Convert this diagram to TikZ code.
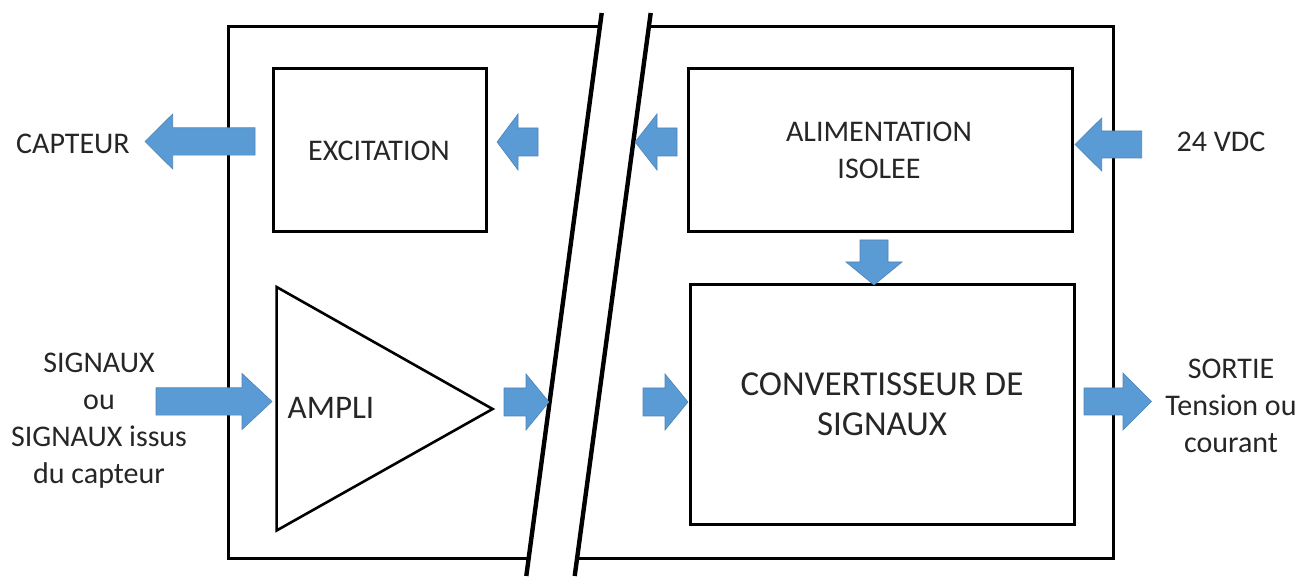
\documentclass[tikz,border=0pt]{standalone}
\usepackage{fontspec}
\setmainfont{Carlito}
\usepackage{tikz}
\usetikzlibrary{calc}
\definecolor{arrowblue}{RGB}{91,155,213}
\definecolor{txtgray}{RGB}{38,38,38}

\tikzset{
  frame/.style={draw=black, line width=1.5pt},
  cut/.style={draw=black, line width=2.2pt},
  lbl/.style={text=txtgray, align=center, inner sep=0pt,
    font=\fontsize{15}{18.5}\selectfont},
  blockarrow/.style={fill=arrowblue, draw=arrowblue!85!black, line width=0.3pt}
}

\begin{document}
\begin{tikzpicture}[x=0.5pt, y=-0.5pt]
  \useasboundingbox (0,0) rectangle (1307,587);
  % Outer module, cut in two
  \draw[frame] (599.8,27) -- (228,27) -- (228,559) -- (528.5,559);
  \draw[frame] (648.8,27) -- (1113,27) -- (1113,559) -- (577.5,559);
  \draw[cut] (601.7,13) -- (526.3,576);
  \draw[cut] (650.7,13) -- (574.7,576);
  % Inner blocks
  \draw[frame] (273,69) rectangle (486,232);
  \draw[frame] (688,69) rectangle (1072,232);
  \draw[frame] (690,285) rectangle (1074,525);
  \draw[frame, line width=1.3pt] (276.6,287) -- (492.6,409) -- (276.6,530.5) -- cycle;
  % Texts
  \node[lbl] (excitation) at (379,151) {EXCITATION};
  \node[lbl] (alim) at (879,150) {ALIMENTATION\\ISOLEE};
  \node[lbl, font=\fontsize{17.5}{20}\selectfont] (conv) at (882,404) {CONVERTISSEUR DE\\SIGNAUX};
  \node[lbl, font=\fontsize{16.5}{20}\selectfont] (ampli) at (331,408) {AMPLI};
  \node[lbl] (capteur) at (73,144) {CAPTEUR};
  \node[lbl] (vdc) at (1221,142) {24 VDC};
  \node[lbl] (signaux) at (99,421) {SIGNAUX\\ou\\SIGNAUX issus\\du capteur};
  \node[lbl] (sortie) at (1231,405.5) {SORTIE\\Tension ou\\courant};
  % Block arrows: tail/head start/tip/y/shaft/head
  \foreach \tl/\hb/\tp/\y/\h/\H in {
    255/172.7/145/141.5/13.7/27.5,
    538/518/497/142/14/28,
    677/657/635/142/14/28,
    1141.7/1101.7/1075/144.5/13.5/26.5,
    156/242/272/401.5/13.7/28,
    504/526/549/402/14/28,
    643/665/688/402/14/28,
    1084/1123/1151.5/401.5/13.5/28.5}{
    \fill[blockarrow] (\tl,\y-\h) -- (\hb,\y-\h) -- (\hb,\y-\H) -- (\tp,\y)
      -- (\hb,\y+\H) -- (\hb,\y+\h) -- (\tl,\y+\h) -- cycle;
  }
  \fill[blockarrow] (860,240) -- (888,240) -- (888,262) -- (902,262) -- (874,285)
    -- (846,262) -- (860,262) -- cycle;
\end{tikzpicture}
\end{document}
